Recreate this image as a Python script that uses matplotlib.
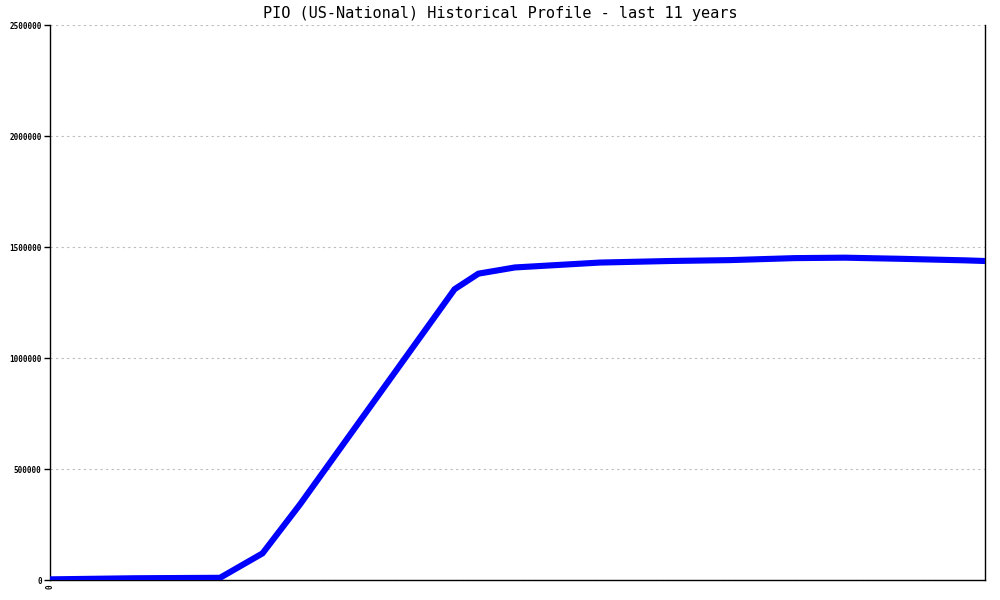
import numpy as np
import matplotlib.pyplot as plt

# datos (años desde el inicio, valor)
years = [0, 1, 2, 2.5, 2.94, 4.76, 5.04, 5.47, 6.47, 7.29, 8.0, 8.76, 9.35, 10.0, 10.76, 11]
values = [3000, 8000, 10000, 120000, 340000, 1310000, 1380000, 1408000, 1430000,
          1437000, 1441000, 1450000, 1452000, 1447000, 1440000, 1437000]
yticks = [0, 500000, 1000000, 1500000, 2000000, 2500000]

fig = plt.figure(figsize=(10, 6), dpi=100)
ax = fig.add_axes([0.05, 0.0333, 0.935, 0.925])

ax.plot(years, values, color='#0000ff', linewidth=4.4, solid_joinstyle='miter', zorder=3)

ax.set_xlim(0, 11)
ax.set_ylim(0, 2500000)
ax.set_yticks(yticks)
ax.set_yticklabels([str(t) for t in yticks], family='DejaVu Sans Mono',
                   fontsize=5.5, fontweight='bold')
ax.set_xticks([0])
ax.set_xticklabels(['0'], family='DejaVu Sans Mono', fontsize=5.5,
                   fontweight='bold', rotation=90)
ax.tick_params(axis='y', length=4, width=1, pad=2)
ax.tick_params(axis='x', length=0, pad=3)

ax.grid(axis='y', color='#bbbbbb', linestyle=(0, (2, 3)), linewidth=0.8)
ax.spines['top'].set_visible(False)
for s in ['left', 'bottom', 'right']:
    ax.spines[s].set_linewidth(1)

fig.suptitle("PIO (US-National) Historical Profile - last 11 years",
             family='DejaVu Sans Mono', fontsize=11, y=0.99, va='top')

plt.savefig('out.png', dpi=100)
